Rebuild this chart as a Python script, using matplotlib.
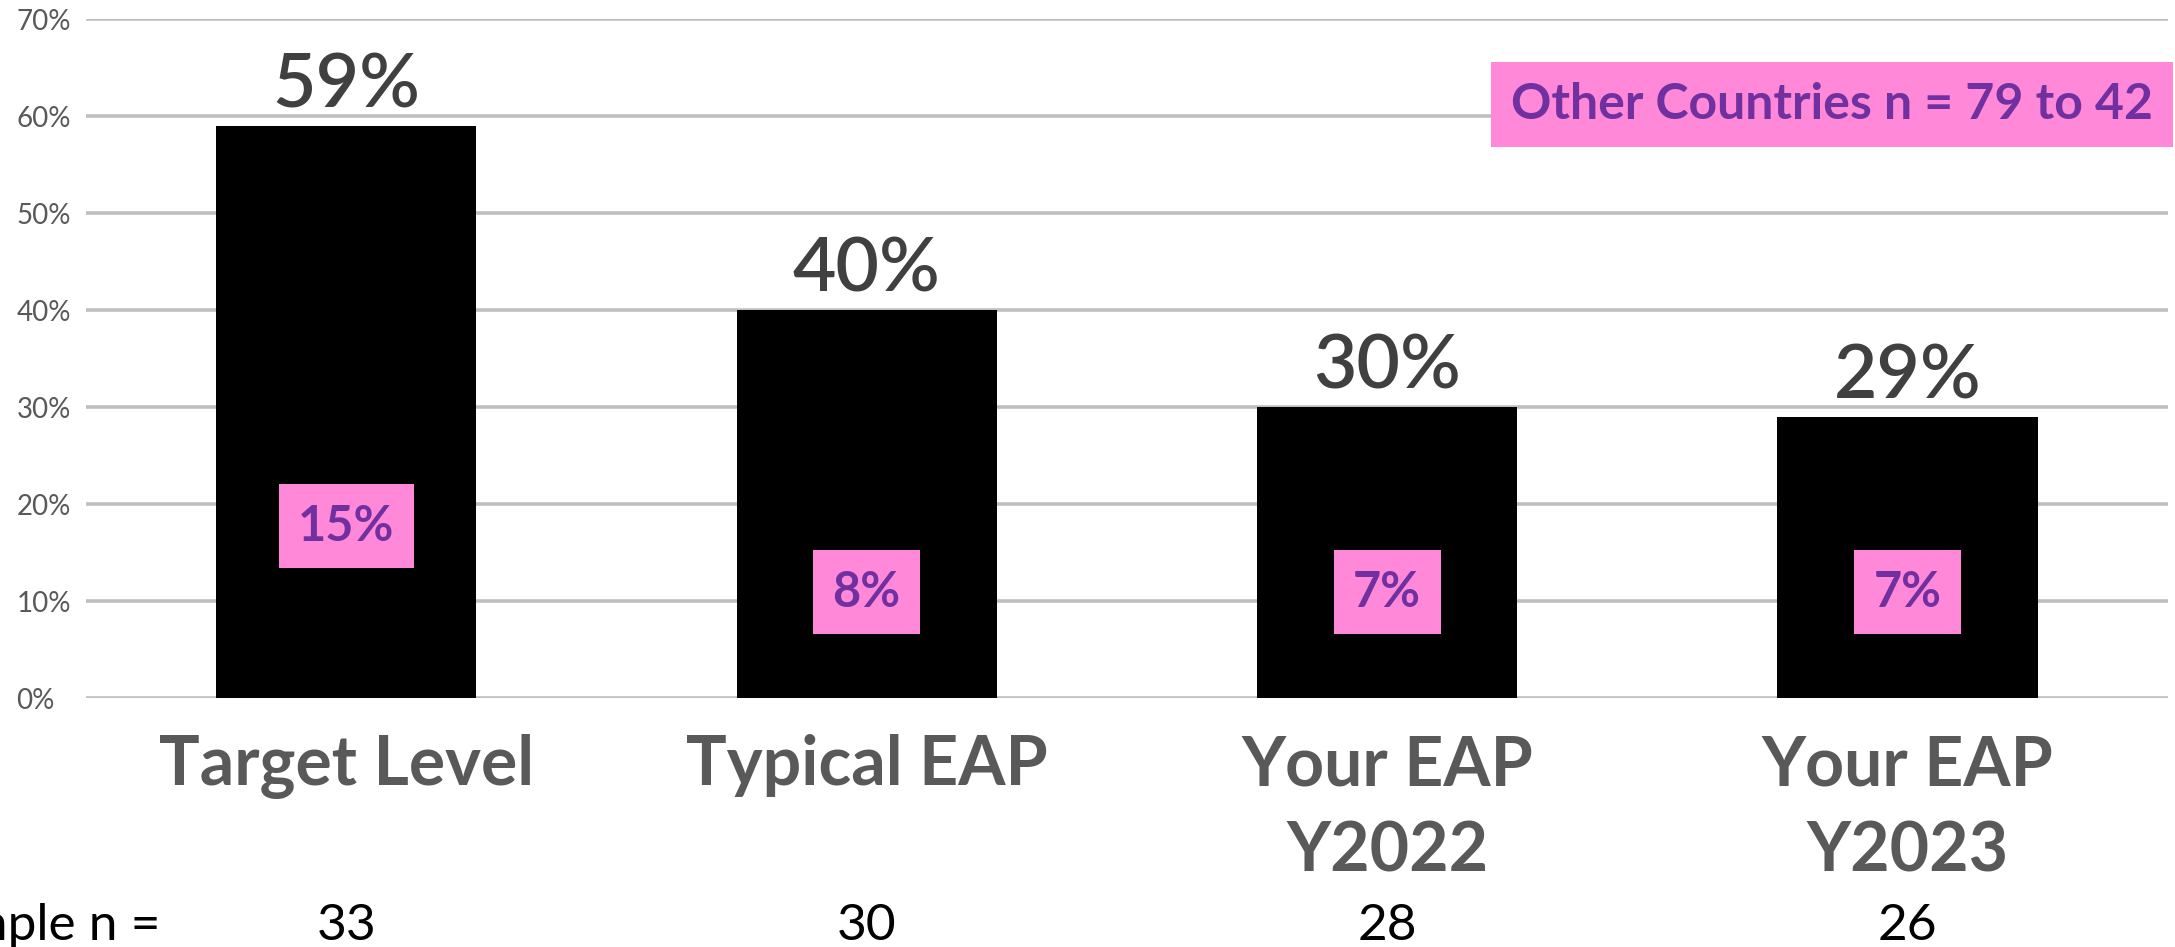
import matplotlib.pyplot as plt
import matplotlib.transforms as mtransforms

# chart data
categories = ["Target Level", "Typical EAP", "Your EAP\nY2022", "Your EAP\nY2023"]
values = [59, 40, 30, 29]
other_values = [15, 8, 7, 7]
sample_n = [33, 30, 28, 26]
yticks = [0, 10, 20, 30, 40, 50, 60, 70]

# where the pink "other countries" boxes sit (centre height, in %)
box_y = [17.7, 10.9, 10.9, 10.9]

PINK = "#ff88d8"
PURPLE = "#7030a0"
FONT = "Lato"

fig = plt.figure(figsize=(21.75, 9.47), dpi=100)
ax = fig.add_axes([0.0395, 0.2629, 0.9572, 0.7170])

x = range(len(categories))
ax.bar(x, values, width=0.5, color="black", zorder=3)

ax.set_xlim(-0.5, 3.5)
ax.set_ylim(0, 70)
ax.set_yticks(yticks)
ax.set_yticklabels([f"{t}%" for t in yticks], fontsize=20, color="#595959",
                   family=FONT, ha="left")
ax.tick_params(axis="y", length=0, pad=50)
ax.set_xticks(list(x))
ax.set_xticklabels(categories, fontsize=49, fontweight="bold", color="#595959",
                   family=FONT, linespacing=1.45)
ax.tick_params(axis="x", length=0, pad=26)
ax.yaxis.grid(True, color="#bfbfbf", linewidth=2.6, zorder=0)
ax.set_axisbelow(True)
for s in ax.spines.values():
    s.set_visible(False)

# value labels above bars
for i, v in enumerate(values):
    ax.annotate(f"{v}%", (i, v), xytext=(0, 13), textcoords="offset points",
                ha="center", va="baseline", fontsize=54, fontweight="semibold",
                color="#404040", family=FONT)

# pink boxes inside bars
for i, (v, yb) in enumerate(zip(other_values, box_y)):
    ax.text(i, yb, f"{v}%", ha="center", va="center", fontsize=35,
            fontweight="bold", color=PURPLE, family=FONT, zorder=5,
            bbox=dict(boxstyle="square,pad=0.4", fc=PINK, ec="none"))

fig.text(1832 / 2175, 1 - 104.5 / 947, "Other Countries n = 79 to 42",
         ha="center", va="center", fontsize=36, fontweight="bold",
         color=PURPLE, family=FONT,
         bbox=dict(boxstyle="square,pad=0.4", fc=PINK, ec="none"))

# sample sizes along the bottom
trans = mtransforms.blended_transform_factory(ax.transData, fig.transFigure)
fig.text(160 / 2175, 0.007, "Sample n =", ha="right", va="baseline",
         fontsize=37, color="black", family=FONT)
for i, n in enumerate(sample_n):
    ax.text(i, 0.007, str(n), transform=trans, ha="center", va="baseline",
            fontsize=37, color="black", family=FONT, clip_on=False)

fig.savefig("out.png", dpi=100)
